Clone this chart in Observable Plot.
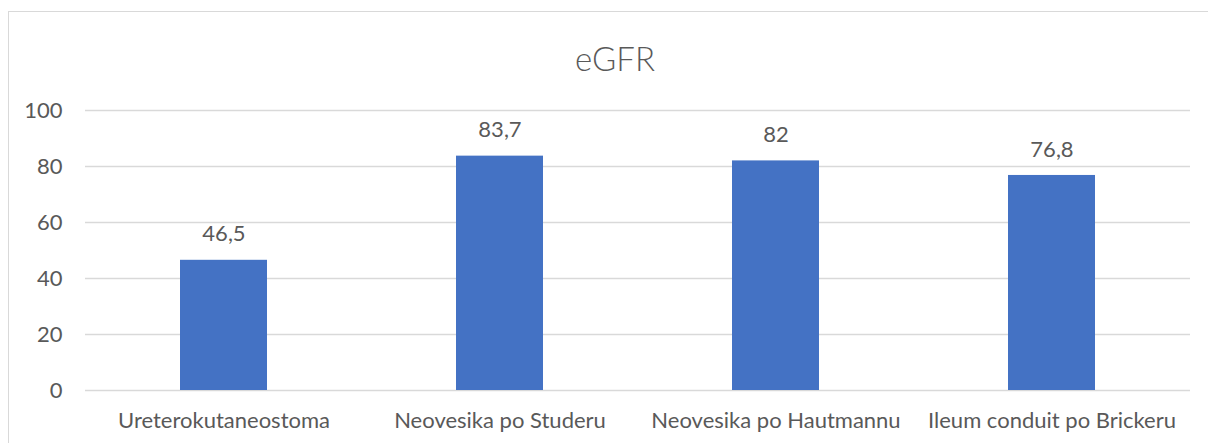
<!DOCTYPE html>
<html>
<head>
<meta charset="utf-8">
<script src="https://cdn.jsdelivr.net/npm/d3@7"></script>
<script src="https://cdn.jsdelivr.net/npm/@observablehq/plot@0.6"></script>
<style>
  html, body { margin: 0; padding: 0; background: #fff; overflow: hidden; }
  #wrap { position: relative; width: 1208px; height: 443px; overflow: hidden; }
  #border { position: absolute; left: 8px; top: 11px; width: 1400px; height: 600px; border: 1.3px solid #D9D9D9; box-sizing: border-box; }
  #chart { position: absolute; left: 0; top: 0; }
</style>
</head>
<body>
<div id="wrap"><div id="border"></div><div id="chart"></div></div>
<script>
const categories = ["Ureterokutaneostoma", "Neovesika po Studeru", "Neovesika po Hautmannu", "Ileum conduit po Brickeru"];
const values = [46.5, 83.7, 82, 76.8];
const yTicks = [0, 20, 40, 60, 80, 100];
const title = "eGFR";

const data = categories.map((c, i) => ({category: c, value: values[i]}));
const font = "Lato, 'Open Sans', sans-serif";
const textColor = "#595959";

const plot = Plot.plot({
  width: 1208,
  height: 443,
  marginLeft: 85,
  marginRight: 18,
  marginTop: 110,
  marginBottom: 53,
  style: {fontFamily: font, fontSize: "22px", color: textColor, background: "transparent"},
  x: {domain: categories, paddingInner: 0.685, paddingOuter: 0.3425, label: null, tickSize: 0, tickPadding: 22},
  y: {domain: [0, 100], ticks: yTicks, label: null, tickSize: 0, tickPadding: 23},
  marks: [
    Plot.gridY(yTicks, {stroke: "#D9D9D9", strokeOpacity: 1, strokeWidth: 1.3}),
    Plot.barY(data, {x: "category", y: "value", fill: "#4472C4"}),
    Plot.text(data, {x: "category", y: "value", text: d => String(d.value).replace(".", ","), dy: -26, fill: textColor, fontSize: 22}),
    Plot.text([title], {text: d => d, frameAnchor: "top", dy: -63, dx: -23, fontSize: 33, fontWeight: 300, fill: textColor})
  ]
});
document.getElementById("chart").appendChild(plot);
</script>
</body>
</html>
